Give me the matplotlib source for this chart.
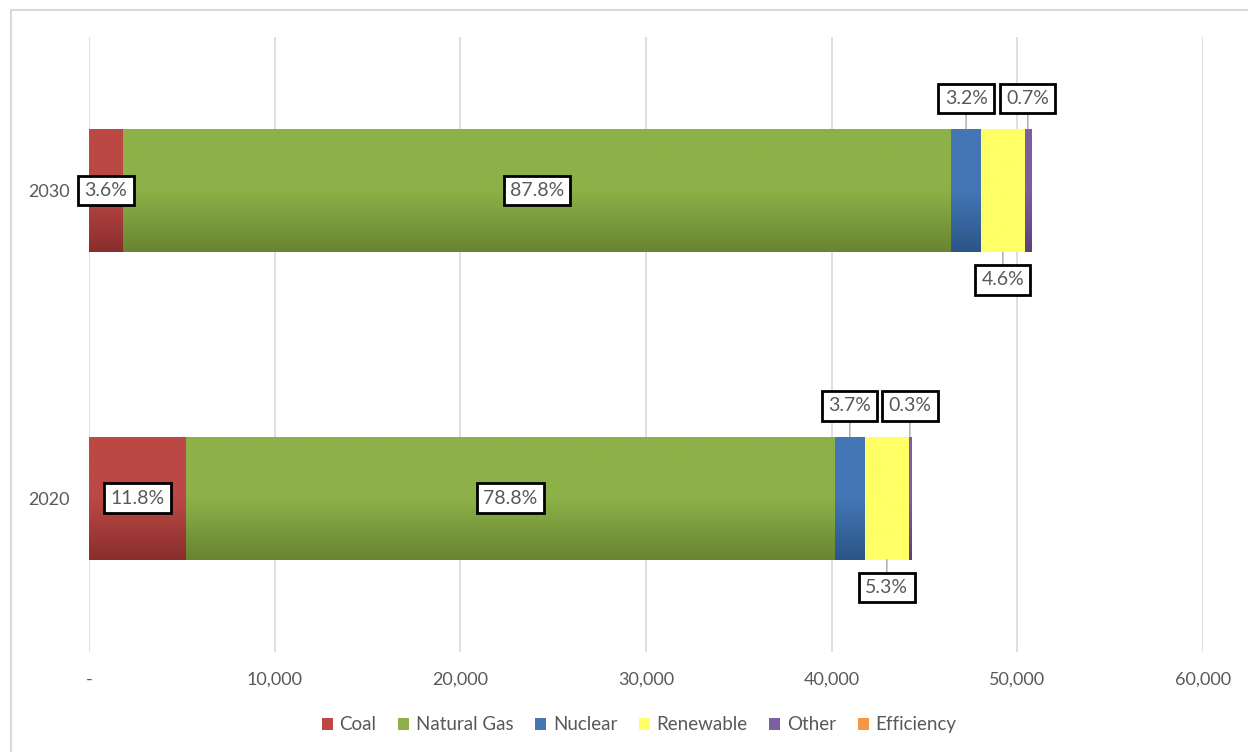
import numpy as np
import matplotlib
matplotlib.use("Agg")
import matplotlib.pyplot as plt
from matplotlib.patches import Rectangle
from matplotlib.colors import LinearSegmentedColormap

plt.rcParams['font.family'] = ['Lato', 'DejaVu Sans']

# ── DATA ───────────────────────────────────────────────────────
years      = ["2020", "2030"]
sources    = ["Coal", "Natural Gas", "Nuclear", "Renewable", "Other", "Efficiency"]
coal       = [5230, 1830]
gas        = [34930, 44600]
nuclear    = [1640, 1625]
renewable  = [2350, 2335]
other      = [130, 355]
efficiency = [0, 0]

# data labels as printed on the chart (share of total)
coal_lbl      = ["11.8%", "3.6%"]
gas_lbl       = ["78.8%", "87.8%"]
nuclear_lbl   = ["3.7%", "3.2%"]
renewable_lbl = ["5.3%", "4.6%"]
other_lbl     = ["0.3%", "0.7%"]

x_ticks  = [0, 10000, 20000, 30000, 40000, 50000, 60000]
x_labels = ["-", "10,000", "20,000", "30,000", "40,000", "50,000", "60,000"]

# ── STYLE ──────────────────────────────────────────────────────
# (top colour, bottom colour) -> excel style vertical gradient
colors = {
    "Coal":        ("#bb4845", "#8a2e2c"),
    "Natural Gas": ("#8db148", "#688432"),
    "Nuclear":     ("#4476b6", "#2b5586"),
    "Renewable":   ("#ffff66", "#ffff66"),
    "Other":       ("#7d5ea0", "#5a427b"),
    "Efficiency":  ("#f79646", "#e46c0a"),
}
TEXT_GRAY = "#595959"
BAR_H = 0.40

fig = plt.figure(figsize=(12.48, 7.52), dpi=100)
ax = fig.add_axes([0.0713, 0.133, 0.8926, 0.818])

# light outer chart border
fig.patches.append(Rectangle((11/1248, -0.05), 1.2, (752-10)/752 + 0.05,
                             transform=fig.transFigure, fill=False,
                             edgecolor="#d9d9d9", linewidth=1.5, zorder=0))

series = [coal, gas, nuclear, renewable, other, efficiency]
ypos = np.arange(len(years))
left = np.zeros(len(years))
segments = {}

for name, vals in zip(sources, series):
    vals = np.array(vals, dtype=float)
    top_c, bot_c = colors[name]
    bars = ax.barh(ypos, vals, left=left, height=BAR_H, color=top_c,
                   edgecolor="none", zorder=2, label=name)
    cmap = LinearSegmentedColormap.from_list(name, [bot_c, top_c, top_c])
    grad = np.linspace(0, 1, 256).reshape(-1, 1)
    for b in bars:
        if b.get_width() <= 0:
            continue
        x0, y0 = b.get_x(), b.get_y()
        im = ax.imshow(grad, cmap=cmap, aspect="auto", origin="lower",
                       extent=[x0, x0 + b.get_width(), y0, y0 + b.get_height()],
                       zorder=2.1)
        im.set_clip_path(b)
    segments[name] = (left.copy(), vals)
    left += vals

ax.set_xlim(0, 60000)
ax.set_ylim(-0.5, 1.5)
ax.set_xticks(x_ticks)
ax.set_xticklabels(x_labels)
ax.set_yticks(ypos)
ax.set_yticklabels(years)
ax.tick_params(length=0, labelsize=13, colors=TEXT_GRAY)
ax.tick_params(axis="x", pad=14)
ax.tick_params(axis="y", pad=14)
for s in ax.spines.values():
    s.set_visible(False)
ax.xaxis.grid(True, color="#d9d9d9", linewidth=1.2, zorder=0)
ax.set_axisbelow(True)

box = dict(boxstyle="square,pad=0.32", facecolor="white",
           edgecolor="black", linewidth=2.0)

def inside(name, labels):
    l, v = segments[name]
    for i, t in enumerate(labels):
        ax.text(l[i] + v[i] / 2, ypos[i], t, ha="center", va="center",
                fontsize=14, color=TEXT_GRAY, bbox=box, zorder=5)

def outside(name, labels, dy):
    l, v = segments[name]
    for i, t in enumerate(labels):
        xc = l[i] + v[i] / 2
        edge = ypos[i] + np.sign(dy) * BAR_H / 2
        ax.annotate(t, xy=(xc, edge), xytext=(xc, ypos[i] + dy),
                    ha="center", va="center", fontsize=14, color=TEXT_GRAY,
                    bbox=box, zorder=5,
                    arrowprops=dict(arrowstyle="-", color="#a6a6a6",
                                    linewidth=1.0, shrinkA=0, shrinkB=0))

inside("Coal", coal_lbl)
inside("Natural Gas", gas_lbl)
outside("Nuclear", nuclear_lbl, 0.30)
outside("Other", other_lbl, 0.30)
outside("Renewable", renewable_lbl, -0.29)

leg = fig.legend(*ax.get_legend_handles_labels(), loc="center",
                 bbox_to_anchor=(0.512, 0.036), ncol=6, frameon=False,
                 fontsize=13.5, handlelength=0.6, handleheight=0.6,
                 handletextpad=0.35, columnspacing=1.15)
for t in leg.get_texts():
    t.set_color(TEXT_GRAY)

fig.savefig("out.png", dpi=100, facecolor="white")
